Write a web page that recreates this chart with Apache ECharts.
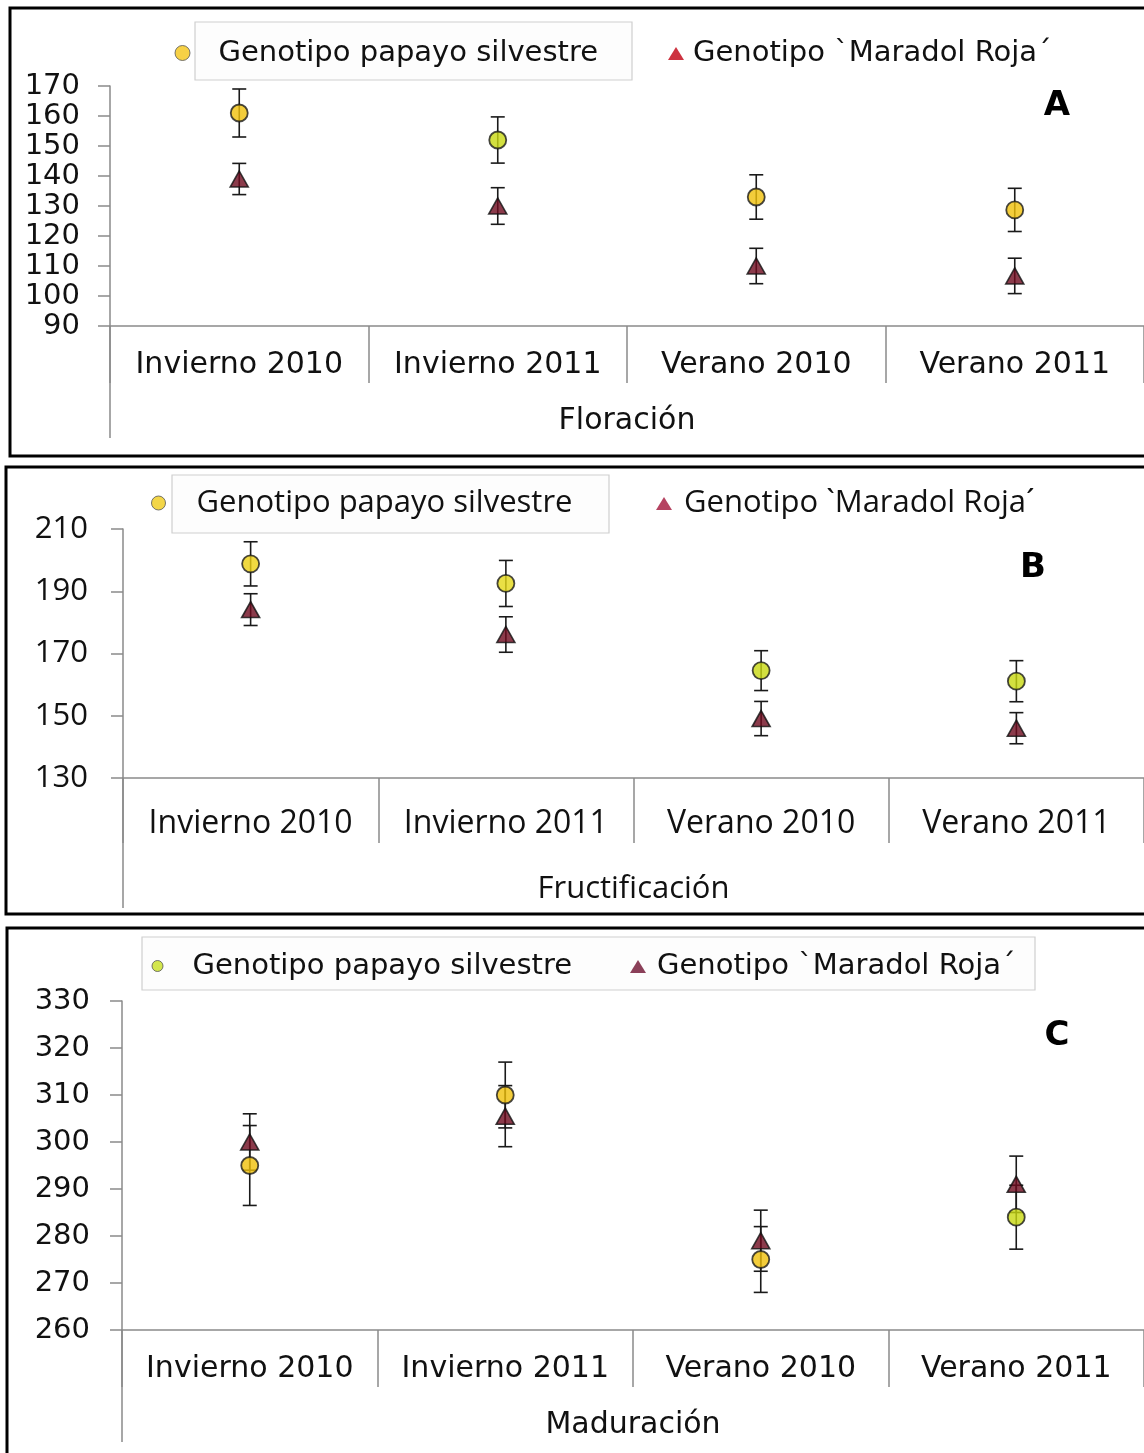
<!DOCTYPE html>
<html>
<head>
<meta charset="utf-8">
<script src="https://cdn.jsdelivr.net/npm/echarts@6/dist/echarts.min.js"></script>
<style>
html,body{margin:0;padding:0;background:#fff;}
#chart{width:1144px;height:1453px;}
</style>
</head>
<body>
<div id="chart"></div>
<script>
// ---------- DATA ----------
const categories = ['Invierno 2010', 'Invierno 2011', 'Verano 2010', 'Verano 2011'];
const seriesNames = ['Genotipo papayo silvestre', 'Genotipo `Maradol Roja´'];

// Panel A - Floración
const floracionSilvestre = [161, 152, 133, 128.7];
const floracionSilvestreErr = [8, 7.7, 7.4, 7.2];
const floracionMaradol = [139, 130, 110, 106.7];
const floracionMaradolErr = [5.2, 6.1, 5.9, 5.9];
const floracionTicks = {min: 90, max: 170, interval: 10};

// Panel B - Fructificación
const fructSilvestre = [198.8, 192.5, 164.5, 161.1];
const fructSilvestreErr = [7.1, 7.4, 6.4, 6.6];
const fructMaradol = [184.1, 176.1, 149.1, 146];
const fructMaradolErr = [5.1, 5.7, 5.5, 5];
const fructTicks = {min: 130, max: 210, interval: 20};

// Panel C - Maduración
const madSilvestre = [295, 310, 275, 284];
const madSilvestreErr = [8.5, 7, 7, 6.8];
const madMaradol = [300, 305.5, 279, 291];
const madMaradolErr = [6, 6.5, 6.5, 6];
const madTicks = {min: 260, max: 330, interval: 10};

const axisTitles = ['Floración', 'Fructificación', 'Maduración'];
const panelLetters = ['A', 'B', 'C'];

// ---------- STYLE / LAYOUT ----------
const GOLD = '#f0c00a', YG = '#c8d810';
const panels = [
  {
    sil: floracionSilvestre, silErr: floracionSilvestreErr, mar: floracionMaradol, marErr: floracionMaradolErr, ticks: floracionTicks,
    grid: {left: 110, top: 86, width: 1036, height: 240}, ext: 438,
    font: 'DejaVu Sans', yFont: 29, yMargin: 30, xFont: 30, xMargin: 24, tickLen: 57, nameGap: 80, nameFont: 30,
    silColors: [GOLD, YG, GOLD, GOLD], marColor: '#6e0a1e',
    legSil: {left: 174.5, top: 38.5, w: 62, h: 15, color: '#f5c518', size: 29},
    legMar: {left: 668, top: 39, w: 16, h: 13, pad: 4, color: '#c00010', size: 29},
    legBox: {x: 195, y: 22, w: 437, h: 58},
    border: {x: 10, y: 8, w: 1150, h: 448},
    letter: {x: 1057, y: 106}
  },
  {
    sil: fructSilvestre, silErr: fructSilvestreErr, mar: fructMaradol, marErr: fructMaradolErr, ticks: fructTicks,
    grid: {left: 123, top: 529, width: 1022, height: 249}, ext: 908,
    font: 'Open Sans', yFont: 31, yMargin: 35, xFont: 32, xMargin: 30, tickLen: 65, nameGap: 96, nameFont: 31,
    silColors: ['#ecd012', '#e4d816', YG, YG], marColor: '#6e0a1e',
    legSil: {left: 151, top: 487.5, w: 66, h: 14, color: '#f0cc1a', size: 31},
    legMar: {left: 656, top: 488, w: 16, h: 13, pad: 7, color: '#a3143a', size: 31},
    legBox: {x: 172, y: 475, w: 437, h: 58},
    border: {x: 6, y: 467, w: 1150, h: 447},
    letter: {x: 1033, y: 568}
  },
  {
    sil: madSilvestre, silErr: madSilvestreErr, mar: madMaradol, marErr: madMaradolErr, ticks: madTicks,
    grid: {left: 122, top: 1001, width: 1024, height: 329}, ext: 1442,
    font: 'DejaVu Sans', yFont: 29, yMargin: 32, xFont: 30, xMargin: 24, tickLen: 57, nameGap: 80, nameFont: 30,
    silColors: [GOLD, GOLD, GOLD, YG], marColor: '#6e0a1e',
    legSil: {left: 151.5, top: 951.5, w: 60, h: 11, color: '#c8e020', size: 29},
    legMar: {left: 630, top: 952, w: 16, h: 13, pad: 6, color: '#6e1030', size: 29},
    legBox: {x: 142, y: 937, w: 893, h: 53},
    border: {x: 7, y: 928, w: 1150, h: 540},
    letter: {x: 1057, y: 1036}
  }
];

const AXIS_GRAY = '#8a8a8a';
const TEXT = '#111';

function errorBarSeries(name, gi, values, errs, z) {
  return {
    type: 'custom',
    name: name + ' err',
    xAxisIndex: gi, yAxisIndex: gi,
    z: z,
    silent: true,
    data: values.map((v, i) => [i, v - errs[i], v + errs[i]]),
    encode: {x: 0, y: [1, 2]},
    renderItem: function (params, api) {
      const lo = api.coord([api.value(0), api.value(1)]);
      const hi = api.coord([api.value(0), api.value(2)]);
      const hw = 7;
      const st = {stroke: '#1a1a1a', lineWidth: 1.6};
      return {
        type: 'group',
        children: [
          {type: 'line', shape: {x1: lo[0], y1: lo[1], x2: hi[0], y2: hi[1]}, style: st},
          {type: 'line', shape: {x1: lo[0] - hw, y1: lo[1], x2: lo[0] + hw, y2: lo[1]}, style: st},
          {type: 'line', shape: {x1: hi[0] - hw, y1: hi[1], x2: hi[0] + hw, y2: hi[1]}, style: st}
        ]
      };
    }
  };
}

const option = {
  animation: false,
  backgroundColor: '#fff',
  grid: [], xAxis: [], yAxis: [], series: [], legend: [], graphic: []
};

panels.forEach((p, gi) => {
  option.grid.push(Object.assign({containLabel: false}, p.grid));
  option.xAxis.push({
    gridIndex: gi, type: 'category', data: categories, boundaryGap: true,
    axisLine: {lineStyle: {color: AXIS_GRAY, width: 1.5}},
    axisTick: {show: true, alignWithLabel: false, length: p.tickLen, lineStyle: {color: AXIS_GRAY, width: 1.5}},
    axisLabel: {fontFamily: p.font, fontSize: p.xFont, color: TEXT, margin: p.xMargin, interval: 0},
    splitLine: {show: false},
    name: axisTitles[gi], nameLocation: 'middle', nameGap: p.nameGap,
    nameTextStyle: {fontFamily: p.font, fontSize: p.nameFont, color: TEXT}
  });
  option.yAxis.push({
    gridIndex: gi, type: 'value', min: p.ticks.min, max: p.ticks.max, interval: p.ticks.interval,
    axisLine: {show: true, lineStyle: {color: AXIS_GRAY, width: 1.5}},
    axisTick: {show: true, length: 12, lineStyle: {color: AXIS_GRAY, width: 1.5}},
    axisLabel: {fontFamily: p.font, fontSize: p.yFont, color: TEXT, margin: p.yMargin},
    splitLine: {show: false}
  });
  option.series.push(errorBarSeries(seriesNames[0], gi, p.sil, p.silErr, 2));
  option.series.push(errorBarSeries(seriesNames[1], gi, p.mar, p.marErr, 2));
  option.series.push({
    type: 'scatter', name: seriesNames[0], xAxisIndex: gi, yAxisIndex: gi, z: 3,
    symbol: 'circle', symbolSize: 17,
    data: p.sil.map((v, i) => ({value: [i, v], itemStyle: {color: p.silColors[i]}})),
    itemStyle: {borderColor: '#1a1a1a', borderWidth: 1.8}
  });
  option.series.push({
    type: 'scatter', name: seriesNames[1], xAxisIndex: gi, yAxisIndex: gi, z: 4,
    symbol: 'triangle', symbolSize: [18, 16],
    data: p.mar.map((v, i) => [i, v]),
    itemStyle: {color: p.marColor, borderColor: '#111', borderWidth: 1.6}
  });
  // legends
  option.legend.push({
    left: p.legSil.left, top: p.legSil.top, padding: 0, selectedMode: false, z: 10,
    itemWidth: p.legSil.w, itemHeight: p.legSil.h,
    data: [{name: seriesNames[0], icon: 'circle', itemStyle: {color: p.legSil.color, borderColor: '#555', borderWidth: 1}}],
    textStyle: {fontFamily: p.font, fontSize: p.legSil.size, color: TEXT}
  });
  option.legend.push({
    left: p.legMar.left, top: p.legMar.top, padding: 0, selectedMode: false, z: 10,
    itemWidth: p.legMar.w, itemHeight: p.legMar.h,
    data: [{name: seriesNames[1], icon: 'triangle', itemStyle: {color: p.legMar.color, borderColor: p.legMar.color, borderWidth: 0}}],
    textStyle: {fontFamily: p.font, fontSize: p.legMar.size, color: TEXT, padding: [0, 0, 0, p.legMar.pad]}
  });
  // decorations
  option.graphic.push({
    type: 'rect', z: 0, silent: true,
    shape: {x: p.legBox.x, y: p.legBox.y, width: p.legBox.w, height: p.legBox.h},
    style: {fill: '#fdfdfd', stroke: '#cfcfcf', lineWidth: 1.2}
  });
  option.graphic.push({
    type: 'rect', z: 100, silent: true,
    shape: {x: p.border.x, y: p.border.y, width: p.border.w, height: p.border.h},
    style: {fill: null, stroke: '#000', lineWidth: 3}
  });
  option.graphic.push({
    type: 'line', z: 1, silent: true,
    shape: {x1: p.grid.left, y1: p.grid.top + p.grid.height, x2: p.grid.left, y2: p.ext},
    style: {stroke: AXIS_GRAY, lineWidth: 1.5}
  });
  option.graphic.push({
    type: 'text', z: 10, silent: true,
    x: p.letter.x, y: p.letter.y,
    style: {text: panelLetters[gi], fontFamily: 'DejaVu Sans', fontWeight: 'bold', fontSize: 34, fill: '#000', align: 'center', verticalAlign: 'middle'}
  });
});

const chart = echarts.init(document.getElementById('chart'), null, {renderer: 'canvas'});
chart.setOption(option);
</script>
</body>
</html>
